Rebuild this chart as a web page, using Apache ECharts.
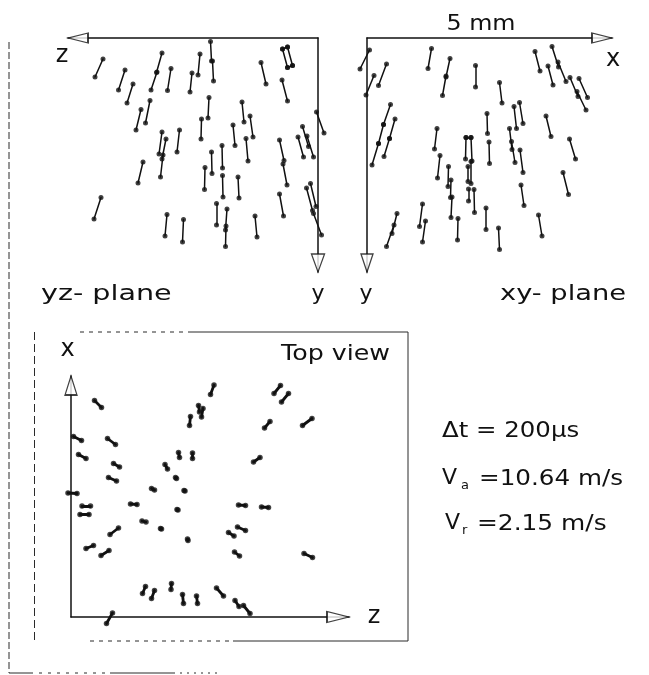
<!DOCTYPE html>
<html>
<head>
<meta charset="utf-8">
<script src="https://cdn.jsdelivr.net/npm/echarts@6.0.0/dist/echarts.min.js"></script>
<style>
html,body{margin:0;padding:0;background:#fff;}
#chart{width:649px;height:675px;}
</style>
</head>
<body>
<div id="chart"></div>
<script>
// Units: 1 unit ≈ 20 µm (50 units = 1 mm). Each track = [a1, b1, a2, b2].
// yz-plane: [z, y, z, y]
var yzTracks = [
  [215,21,223,39],[193,32,199.5,52],[185,46,191,65],[156,15,161.5,34.5],[161,34,167,52],
  [147,30.5,150.5,52.5],[126,35,128,54],[177,71.5,182,92],[168,62.5,172.5,85],[156,94,159,116],
  [152,101,156,121],[155,117,157.5,139],[138.5,92,141,114],[175,124,180,145],[217,159.5,224,181],
  [151,176.5,153,198],[134.5,181.5,135.5,204],[107.5,3.5,106.5,23],[105.5,23,104.5,43],[118,16,120,37],
  [57,24.5,52,46],[36,42,30.5,63],[109,59.5,110,80],[116.5,81,117,101],[76,64,74,84],
  [68,78,65,99],[85,87,83,107.5],[72,100.5,70,123],[96,107.5,95.5,130],[106.5,114,106,135.5],
  [113,129.5,113.5,151.5],[95.5,137.5,95,159],[80,139,79,160],[38.5,102,34,122.5],[35,126,31,147],
  [38.5,156,34.5,178],[20,99,14.5,119],[15.5,88.5,9.5,108.5],[11,98,4.5,119],[1.5,74,-6,95],
  [11.5,150,5.5,172.5],[7.5,145.5,2,168.5],[4.5,175.5,-3.5,197],[101.5,165.5,101.5,187],[91,171,92.5,192],
  [92,188,92.5,208.5],[63,178,61,199],
  [35.5,11,30.5,29.5],[30.5,9,25.5,27.5],[35.5,11,30.5,9],[30.5,29.5,25.5,27.5]
];
// xy-plane: [x, y, x, y]
var xyTracks = [
  [2.5,12,-7,31],[7,37.5,-1,57],[19.5,26,11.5,47.5],[64.5,10.5,61,30.5],[83,20.5,79,39],
  [79,38,75.5,57.5],[108.5,27.5,108.5,49],[23.5,66.5,16.5,86.5],[16.5,86.5,11.5,105.5],[11.5,105.5,5,127],
  [28,81,22.5,100.5],[22.5,100.5,17,118.5],[70,90.5,67.5,111],[73,117.5,70.5,140],[81.5,128.5,81,148.5],
  [84,142,83.5,159.5],[85,159,84,179.5],[99,99.5,98.5,121],[104,99.5,105,123],[99,99.5,104,99.5],
  [101,128.5,101,143.5],[104,123.5,104,145.5],[101.5,151,101.5,163],[107,151.5,107.5,174.5],[120,75.5,120.5,95.5],
  [122,104,122.5,125.5],[119,170,119,191.5],[30,175.5,25,195.5],[27,187,19.5,208.5],[55.5,166,52.5,188.5],
  [58.5,183,55.5,204],[91,180.5,90.5,202],[168,13.5,173,33],[185,8.5,191.5,29],[191,24,199,43.5],
  [181,28,186,47],[203,39.5,211,58.5],[210,53.5,219,72],[212,40.5,220.5,59.5],[132.5,44.5,135,65],
  [147,68.5,149.5,90.5],[152.5,64.5,156,85.5],[179,78,184,98.5],[142.5,90.5,145,111.5],[144.5,103.5,148,124.5],
  [153,112,156,134.5],[202.5,101,208.5,121],[196,134.5,201.5,156.5],[154,147,157,167.5],[171.5,177,175,198],
  [131.5,190,132.5,211.5]
];
// Top view: [z, x, z, x]
var topTracks = [
  [23.5,216.5,30.5,209.5],[143,232,139.5,222.5],[127.5,211.5,128.5,205],[132,208.5,130.5,200],[119.5,200.5,118.5,191.5],
  [209.5,231.5,203,223.5],[217.5,223.5,210.5,215],[199,195.5,193.5,189],[241,198.5,231.5,191.5],[2.5,180.5,10.5,176.5],
  [36.5,178.5,44.5,172.5],[7.5,162.5,15,158.5],[42.5,153.5,48.5,150],[37.5,139.5,45.5,136],[107.5,164.5,108.5,159.5],
  [121.5,164,121.5,158.5],[94,152.5,96.5,148],[104.5,139.5,105.5,138.5],[80.5,128.5,83.5,127],[113,126.5,114,126],
  [189,159.5,182.5,155],[-3,124,6,123.5],[11,111,19.5,111],[9,102.5,18,102.5],[59.5,113,66,112.5],
  [106,107.5,107,107],[167.5,112,174.5,111.5],[190.5,110,197.5,109.5],[71,96,75,95],[89.5,88.5,90.5,88],
  [47.5,89,39,82.5],[166.5,90,174.5,86.5],[157.5,84.5,163,81],[116.5,78,117,76.5],[22.5,71.5,15,68.5],
  [38,66.5,30,61.5],[163.5,65,168.5,61],[233,63.5,241.5,59.5],[74.5,30.5,71.5,23.5],[83.5,26.5,80.5,18.5],
  [100.5,33.5,100,27.5],[111.5,22.5,112.5,13.5],[125.5,21,126.5,13.5],[145.5,29,152.5,21],[164,16.5,168,10.5],
  [172.5,11.5,179,3.5],[41.5,4,35.5,-6.5]
];
// Axis extents (units)
var yzRange = {h: 250, v: 234};
var xyRange = {h: 245, v: 234};
var topRange = {h: 278, v: 241};

var INK = '#111';
var FONT = '"DejaVu Sans", sans-serif';

function trackSeries(i, tracks, lw, dot) {
  return [{
    type: 'lines', coordinateSystem: 'cartesian2d', xAxisIndex: i, yAxisIndex: i,
    polyline: false, clip: false, silent: true, z: 3,
    lineStyle: {color: INK, width: lw, opacity: 1, cap: 'round'},
    data: tracks.map(function (t) { return {coords: [[t[0], t[1]], [t[2], t[3]]]}; })
  }, {
    type: 'scatter', xAxisIndex: i, yAxisIndex: i, clip: false, silent: true, z: 4,
    symbol: 'circle', symbolSize: dot, itemStyle: {color: INK},
    data: tracks.reduce(function (a, t) { a.push([t[0], t[1]], [t[2], t[3]]); return a; }, [])
  }];
}
function arrow(i, pt, dir, size) {
  var paths = {
    left: 'path://M0,5L20,0L20,10Z', right: 'path://M0,0L20,5L0,10Z',
    up: 'path://M5,0L10,20L0,20Z', down: 'path://M0,0L10,0L5,20Z'
  };
  return {
    type: 'scatter', xAxisIndex: i, yAxisIndex: i, clip: false, silent: true, z: 5,
    symbol: paths[dir], symbolSize: size,
    itemStyle: {color: '#fff', borderColor: INK, borderWidth: 1.4},
    data: [pt]
  };
}
function axisBase(extra) {
  var o = {
    type: 'value', axisTick: {show: false}, axisLabel: {show: false}, splitLine: {show: false},
    axisLine: {show: true, onZero: false, lineStyle: {color: INK, width: 1.5}}
  };
  for (var k in extra) o[k] = extra[k];
  return o;
}
function txt(s, x, y, size, align, sx) {
  return {
    type: 'text', x: x, y: y, scaleX: sx || 1, silent: true, z: 10,
    style: {text: s, fontSize: size, fontFamily: FONT, fill: INK, align: align || 'left', verticalAlign: 'middle'}
  };
}
function ln(x1, y1, x2, y2, dash, w) {
  return {
    type: 'line', silent: true, z: 1,
    shape: {x1: x1, y1: y1, x2: x2, y2: y2},
    style: {stroke: '#2a2a2a', lineWidth: w || 1, lineDash: dash || null}
  };
}

var series = [].concat(
  trackSeries(0, yzTracks, 1.5, 5),
  trackSeries(1, xyTracks, 1.5, 5),
  trackSeries(2, topTracks, 2.8, 5.5),
  [
    arrow(0, [yzRange.h - 10, 0], 'left', [20, 10]),
    arrow(0, [0, yzRange.v - 9], 'down', [13, 18]),
    arrow(1, [xyRange.h - 10, 0], 'right', [20, 10]),
    arrow(1, [0, xyRange.v - 9], 'down', [12, 18]),
    arrow(2, [0, topRange.v - 9.5], 'up', [12, 19]),
    arrow(2, [topRange.h - 11, 0], 'right', [22, 11])
  ]
);

var option = {
  animation: false,
  backgroundColor: '#fff',
  grid: [
    {left: 68, top: 38, width: 250, height: 234},
    {left: 367, top: 38, width: 245, height: 234},
    {left: 71, top: 376, width: 278, height: 241}
  ],
  xAxis: [
    axisBase({gridIndex: 0, min: 0, max: yzRange.h, inverse: true, position: 'top'}),
    axisBase({gridIndex: 1, min: 0, max: xyRange.h, position: 'top'}),
    axisBase({gridIndex: 2, min: 0, max: topRange.h, position: 'bottom'})
  ],
  yAxis: [
    axisBase({gridIndex: 0, min: 0, max: yzRange.v, inverse: true, position: 'right'}),
    axisBase({gridIndex: 1, min: 0, max: xyRange.v, inverse: true, position: 'left'}),
    axisBase({gridIndex: 2, min: 0, max: topRange.v, position: 'left'})
  ],
  graphic: [
    // outer frame fragments
    ln(9, 42, 9, 673, [7, 3]),
    ln(9, 673, 30, 673), ln(30, 673, 110, 673, [3, 6]), ln(110, 673, 173, 673), ln(173, 673, 217, 673, [2, 5]),
    // top-view box
    ln(34.5, 332, 34.5, 641, [8, 4]),
    ln(408, 332, 408, 641, null),
    ln(80, 332, 190, 332, [4, 5]), ln(190, 332, 408, 332),
    ln(90, 641, 233, 641, [4, 5]), ln(233, 641, 408, 641),
    // labels
    txt('5 mm', 481, 24, 22, 'center', 1.08),
    txt('z', 62, 56, 24, 'center'),
    txt('x', 613, 60, 24, 'center'),
    txt('yz- plane', 41, 294, 22, 'left', 1.3),
    txt('y', 318, 294, 22, 'center'),
    txt('y', 366, 294, 22, 'center'),
    txt('xy- plane', 500, 294, 22, 'left', 1.24),
    txt('Top view', 390, 354, 22, 'right', 1.15),
    txt('x', 67.5, 350, 24, 'center'),
    txt('z', 374, 617, 24, 'center'),
    txt('\u0394t = 200\u00b5s', 442, 431, 22, 'left', 1.11),
    txt('V', 442, 478, 22, 'left'),
    txt('a', 461, 486, 13, 'left'),
    txt('=10.64 m/s', 479, 479, 22, 'left', 1.12),
    txt('V', 445, 523, 22, 'left'),
    txt('r', 462, 531, 13, 'left'),
    txt('=2.15 m/s', 477, 524, 22, 'left', 1.13)
  ],
  series: series
};

var chart = echarts.init(document.getElementById('chart'), null, {renderer: 'canvas'});
chart.setOption(option);
</script>
</body>
</html>
